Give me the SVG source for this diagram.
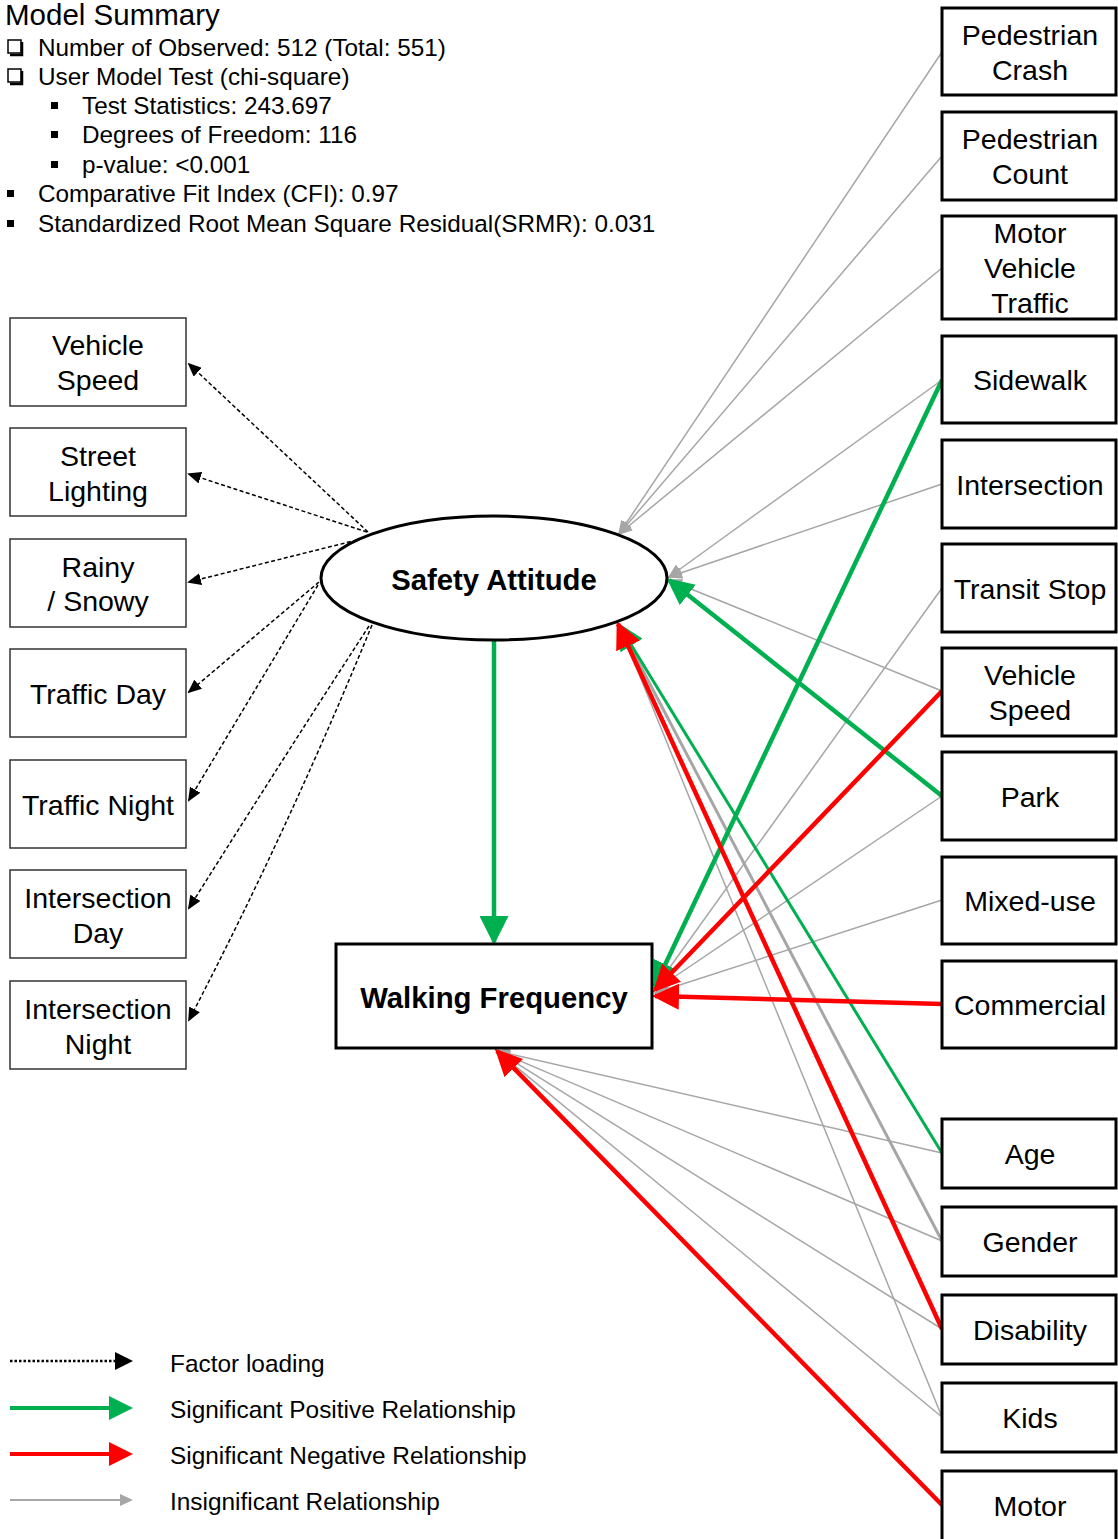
<svg xmlns="http://www.w3.org/2000/svg" width="1118" height="1539" viewBox="0 0 1118 1539">
  <style>
    text { font-family: "Liberation Sans", Arial, sans-serif; fill: #000; }
    .sum { font-size: 24.3px; }
    .title { font-size: 29.5px; }
    .lbl { font-size: 28.5px; text-anchor: middle; }
    .bold { font-size: 29.3px; font-weight: bold; text-anchor: middle; }
    .leg { font-size: 24.4px; }
    .rbox { fill: #fff; stroke: #000; stroke-width: 3; }
    .lbox { fill: #fff; stroke: #333; stroke-width: 1.5; }
    .load { fill: none; stroke: #000; stroke-width: 1.5; stroke-dasharray: 4 2.5; marker-end: url(#hBlack); }
    .ins { fill: none; stroke: #a6a6a6; stroke-width: 1.5; marker-end: url(#hGray); }
    .insT { fill: none; stroke: #a6a6a6; stroke-width: 3; marker-end: url(#hGray); }
    .pos { fill: none; stroke: #00b050; stroke-width: 4.5; marker-end: url(#hGreen); }
    .posT { fill: none; stroke: #00b050; stroke-width: 3; marker-end: url(#hGreen); }
    .posL { fill: none; stroke: #00b050; stroke-width: 4.5; marker-end: url(#hGreenL); }
    .neg { fill: none; stroke: #ff0000; stroke-width: 4.5; marker-end: url(#hRed); }
  </style>
  <defs>
    <marker id="hBlack" markerUnits="userSpaceOnUse" markerWidth="14" markerHeight="12" refX="12" refY="6" orient="auto">
      <path d="M0,0 L14,6 L0,12 z" fill="#000"/>
    </marker>
    <marker id="hGray" markerUnits="userSpaceOnUse" markerWidth="15" markerHeight="12" refX="13" refY="6" orient="auto">
      <path d="M0,0 L15,6 L0,12 z" fill="#a6a6a6"/>
    </marker>
    <marker id="hGreen" markerUnits="userSpaceOnUse" markerWidth="27" markerHeight="26" refX="24" refY="13" orient="auto">
      <path d="M0,0 L27,13 L0,26 z" fill="#00b050"/>
    </marker>
    <marker id="hGreenL" markerUnits="userSpaceOnUse" markerWidth="29" markerHeight="29" refX="26" refY="14.5" orient="auto">
      <path d="M0,0 L29,14.5 L0,29 z" fill="#00b050"/>
    </marker>
    <marker id="hRed" markerUnits="userSpaceOnUse" markerWidth="27" markerHeight="26" refX="24" refY="13" orient="auto">
      <path d="M0,0 L27,13 L0,26 z" fill="#ff0000"/>
    </marker>
  </defs>

  <rect width="1118" height="1539" fill="#fff"/>

  <!-- model summary block -->
  <g id="summary">
    <text class="title" x="5" y="25">Model Summary</text>
    <rect x="8" y="40" width="13" height="13" fill="none" stroke="#000" stroke-width="1.5"/>
    <path d="M22,42 V55 H10" fill="none" stroke="#000" stroke-width="2.5"/>
    <text class="sum" x="38" y="56">Number of Observed: 512 (Total: 551)</text>
    <rect x="8" y="69" width="13" height="13" fill="none" stroke="#000" stroke-width="1.5"/>
    <path d="M22,71 V84 H10" fill="none" stroke="#000" stroke-width="2.5"/>
    <text class="sum" x="38" y="85">User Model Test (chi-square)</text>
    <rect x="51" y="102" width="7" height="7" fill="#000"/>
    <text class="sum" x="82" y="114">Test Statistics: 243.697</text>
    <rect x="51" y="131" width="7" height="7" fill="#000"/>
    <text class="sum" x="82" y="143">Degrees of Freedom: 116</text>
    <rect x="51" y="161" width="7" height="7" fill="#000"/>
    <text class="sum" x="82" y="173">p-value: &lt;0.001</text>
    <rect x="7" y="190" width="7" height="7" fill="#000"/>
    <text class="sum" x="38" y="202">Comparative Fit Index (CFI): 0.97</text>
    <rect x="7" y="220" width="7" height="7" fill="#000"/>
    <text class="sum" x="38" y="232">Standardized Root Mean Square Residual(SRMR): 0.031</text>
  </g>

  <!-- connectors -->
  <g id="connectors">
    <!-- factor loadings -->
    <path class="load" d="M368,532 L189,364"/>
    <path class="load" d="M367,532 L189,474"/>
    <path class="load" d="M357,540 L189,582"/>
    <path class="load" d="M319,582 L189,692"/>
    <path class="load" d="M318,585 L189,800"/>
    <path class="load" d="M369,626 Q282,760 189,908"/>
    <path class="load" d="M372,625 Q288,830 189,1020"/>

    <!-- insignificant paths -->
    <path class="ins" d="M942,52 L619,534"/>
    <path class="ins" d="M942,156 L619,534"/>
    <path class="ins" d="M942,268 L619,534"/>
    <path class="ins" d="M942,380 L669,577"/>
    <path class="ins" d="M942,484 L669,577"/>
    <path class="ins" d="M942,691 L669,580"/>
    <path class="ins" d="M942,588 L655,988"/>
    <path class="ins" d="M942,796 L655,990"/>
    <path class="ins" d="M942,900 L655,993"/>
    <path class="insT" d="M942,1241 L619,625"/>
    <path class="ins" d="M942,1417 L619,625"/>
    <path class="ins" d="M942,1153 L497,1051"/>
    <path class="ins" d="M942,1241 L497,1051"/>
    <path class="ins" d="M942,1329 L497,1051"/>
    <path class="ins" d="M942,1417 L497,1051"/>

    <!-- significant positive -->
    <path class="posT" d="M942,1153 L619,625"/>
    <path class="pos" d="M942,380 L655,986"/>
    <path class="pos" d="M942,796 L669,580"/>
    <path class="posL" d="M494,641 L494,942"/>

    <!-- significant negative -->
    <path class="neg" d="M942,691 L655,990"/>
    <path class="neg" d="M942,1004 L655,996"/>
    <path class="neg" d="M942,1329 L618,624"/>
    <path class="neg" d="M942,1505 L497,1051"/>
  </g>

  <!-- latent factor -->
  <g id="safety-attitude">
    <ellipse cx="494" cy="578" rx="173" ry="62" fill="#fff" stroke="#000" stroke-width="3"/>
    <text class="bold" x="494" y="590">Safety Attitude</text>
  </g>

  <!-- outcome -->
  <g id="walking-frequency">
    <rect x="336" y="944" width="316" height="104" fill="#fff" stroke="#000" stroke-width="3"/>
    <text class="bold" x="494" y="1008">Walking Frequency</text>
  </g>

  <!-- indicators -->
  <g id="ind-vehicle-speed">
    <rect class="lbox" x="10" y="318" width="176" height="88"/>
    <text class="lbl" x="98" y="355">Vehicle</text>
    <text class="lbl" x="98" y="390">Speed</text>
  </g>
  <g id="ind-street-lighting">
    <rect class="lbox" x="10" y="428" width="176" height="88"/>
    <text class="lbl" x="98" y="466">Street</text>
    <text class="lbl" x="98" y="501">Lighting</text>
  </g>
  <g id="ind-rainy-snowy">
    <rect class="lbox" x="10" y="539" width="176" height="88"/>
    <text class="lbl" x="98" y="577">Rainy</text>
    <text class="lbl" x="98" y="611">/ Snowy</text>
  </g>
  <g id="ind-traffic-day">
    <rect class="lbox" x="10" y="649" width="176" height="88"/>
    <text class="lbl" x="98" y="704">Traffic Day</text>
  </g>
  <g id="ind-traffic-night">
    <rect class="lbox" x="10" y="760" width="176" height="88"/>
    <text class="lbl" x="98" y="815">Traffic Night</text>
  </g>
  <g id="ind-intersection-day">
    <rect class="lbox" x="10" y="870" width="176" height="88"/>
    <text class="lbl" x="98" y="908">Intersection</text>
    <text class="lbl" x="98" y="943">Day</text>
  </g>
  <g id="ind-intersection-night">
    <rect class="lbox" x="10" y="981" width="176" height="88"/>
    <text class="lbl" x="98" y="1019">Intersection</text>
    <text class="lbl" x="98" y="1054">Night</text>
  </g>

  <!-- predictors -->
  <g id="pedestrian-crash">
    <rect class="rbox" x="942" y="8" width="174" height="87"/>
    <text class="lbl" x="1030" y="45">Pedestrian</text>
    <text class="lbl" x="1030" y="80">Crash</text>
  </g>
  <g id="pedestrian-count">
    <rect class="rbox" x="942" y="112" width="174" height="88"/>
    <text class="lbl" x="1030" y="149">Pedestrian</text>
    <text class="lbl" x="1030" y="184">Count</text>
  </g>
  <g id="motor-vehicle-traffic">
    <rect class="rbox" x="942" y="216" width="174" height="103"/>
    <text class="lbl" x="1030" y="243">Motor</text>
    <text class="lbl" x="1030" y="278">Vehicle</text>
    <text class="lbl" x="1030" y="313">Traffic</text>
  </g>
  <g id="sidewalk">
    <rect class="rbox" x="942" y="336" width="174" height="87"/>
    <text class="lbl" x="1030" y="390">Sidewalk</text>
  </g>
  <g id="intersection">
    <rect class="rbox" x="942" y="440" width="174" height="88"/>
    <text class="lbl" x="1030" y="495">Intersection</text>
  </g>
  <g id="transit-stop">
    <rect class="rbox" x="942" y="544" width="174" height="88"/>
    <text class="lbl" x="1030" y="599">Transit Stop</text>
  </g>
  <g id="vehicle-speed">
    <rect class="rbox" x="942" y="648" width="174" height="88"/>
    <text class="lbl" x="1030" y="685">Vehicle</text>
    <text class="lbl" x="1030" y="720">Speed</text>
  </g>
  <g id="park">
    <rect class="rbox" x="942" y="752" width="174" height="88"/>
    <text class="lbl" x="1030" y="807">Park</text>
  </g>
  <g id="mixed-use">
    <rect class="rbox" x="942" y="857" width="174" height="87"/>
    <text class="lbl" x="1030" y="911">Mixed-use</text>
  </g>
  <g id="commercial">
    <rect class="rbox" x="942" y="961" width="174" height="87"/>
    <text class="lbl" x="1030" y="1015">Commercial</text>
  </g>
  <g id="age">
    <rect class="rbox" x="942" y="1119" width="174" height="69"/>
    <text class="lbl" x="1030" y="1164">Age</text>
  </g>
  <g id="gender">
    <rect class="rbox" x="942" y="1207" width="174" height="69"/>
    <text class="lbl" x="1030" y="1252">Gender</text>
  </g>
  <g id="disability">
    <rect class="rbox" x="942" y="1295" width="174" height="69"/>
    <text class="lbl" x="1030" y="1340">Disability</text>
  </g>
  <g id="kids">
    <rect class="rbox" x="942" y="1383" width="174" height="69"/>
    <text class="lbl" x="1030" y="1428">Kids</text>
  </g>
  <g id="motor">
    <rect class="rbox" x="942" y="1471" width="174" height="80"/>
    <text class="lbl" x="1030" y="1516">Motor</text>
  </g>

  <!-- legend -->
  <g id="legend">
    <line x1="10" y1="1361" x2="116" y2="1361" stroke="#000" stroke-width="2.5" stroke-dasharray="2.5 2"/>
    <path d="M115,1352 L133,1361 L115,1370 z" fill="#000"/>
    <text class="leg" x="170" y="1372">Factor loading</text>

    <line x1="10" y1="1408" x2="112" y2="1408" stroke="#00b050" stroke-width="4"/>
    <path d="M109,1396 L133,1408 L109,1420 z" fill="#00b050"/>
    <text class="leg" x="170" y="1418">Significant Positive Relationship</text>

    <line x1="10" y1="1454" x2="112" y2="1454" stroke="#ff0000" stroke-width="4"/>
    <path d="M109,1442 L133,1454 L109,1466 z" fill="#ff0000"/>
    <text class="leg" x="170" y="1464">Significant Negative Relationship</text>

    <line x1="10" y1="1500" x2="122" y2="1500" stroke="#a6a6a6" stroke-width="2"/>
    <path d="M120,1494 L133,1500 L120,1506 z" fill="#a6a6a6"/>
    <text class="leg" x="170" y="1510">Insignificant Relationship</text>
  </g>
</svg>
